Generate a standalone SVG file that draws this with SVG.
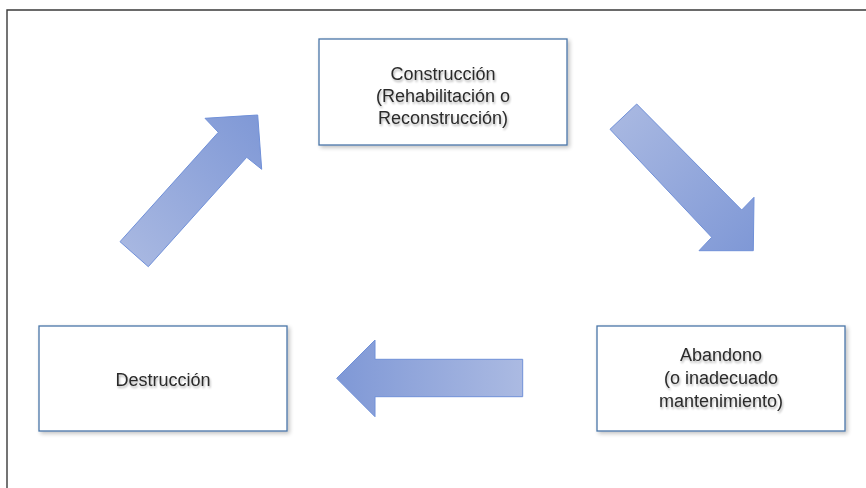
<svg xmlns="http://www.w3.org/2000/svg" width="866" height="488" viewBox="0 0 866 488">
  <style>
    .box { fill: #ffffff; stroke: #4a76a8; stroke-width: 1.3; filter: url(#boxShadow); }
    .lbl { font-family: "Liberation Sans", Arial, sans-serif; font-size: 18px; fill: #2b2b2b; text-anchor: middle; filter: url(#txtShadow); }
    .arrow { stroke: #7090d8; stroke-width: 1; stroke-linejoin: miter; }
    .frame { fill: none; stroke: #3a3a3a; stroke-width: 1.4; }
  </style>
  <defs>
    <filter id="boxShadow" x="-10%" y="-10%" width="125%" height="130%">
      <feGaussianBlur in="SourceAlpha" stdDeviation="2"/>
      <feOffset dx="2" dy="2" result="b"/>
      <feComponentTransfer><feFuncA type="linear" slope="0.25"/></feComponentTransfer>
      <feMerge><feMergeNode/><feMergeNode in="SourceGraphic"/></feMerge>
    </filter>
    <filter id="txtShadow" x="-10%" y="-30%" width="125%" height="170%">
      <feGaussianBlur in="SourceAlpha" stdDeviation="1.2"/>
      <feOffset dx="1" dy="1.5" result="b"/>
      <feComponentTransfer><feFuncA type="linear" slope="0.3"/></feComponentTransfer>
      <feMerge><feMergeNode/><feMergeNode in="SourceGraphic"/></feMerge>
    </filter>
    <linearGradient id="gUpRight" x1="0" y1="1" x2="1" y2="0">
      <stop offset="0" stop-color="#abbae2"/>
      <stop offset="1" stop-color="#7f98d6"/>
    </linearGradient>
    <linearGradient id="gDownRight" x1="0" y1="0" x2="1" y2="1">
      <stop offset="0" stop-color="#abbae2"/>
      <stop offset="1" stop-color="#7f98d6"/>
    </linearGradient>
    <linearGradient id="gLeft" x1="1" y1="0" x2="0" y2="0">
      <stop offset="0" stop-color="#abbae2"/>
      <stop offset="1" stop-color="#7f98d6"/>
    </linearGradient>
  </defs>

  <rect x="0" y="0" width="866" height="488" fill="#ffffff"/>
  <path class="frame" d="M7,488 V10 H866"/>

  <g id="connectors">
    <polygon class="arrow" fill="url(#gUpRight)" points="120,241.7 218.3,132.3 205,118.3 257.7,115 261.7,169.3 246.7,157.3 148.3,266.7"/>
    <polygon class="arrow" fill="url(#gDownRight)" points="610,129.3 636.7,104 741.7,210 754,197.3 753.3,250.7 699,250.7 711.7,237.3"/>
    <polygon class="arrow" fill="url(#gLeft)" points="336.7,378.3 375,340 375,359.3 522.7,359.3 522.7,396.7 375,396.7 375,416.7"/>
  </g>

  <g id="node-construccion">
    <rect class="box" x="319" y="39" width="248" height="106"/>
    <text class="lbl" x="443" y="80">Construcción</text>
    <text class="lbl" x="443" y="102">(Rehabilitación o</text>
    <text class="lbl" x="443" y="124">Reconstrucción)</text>
  </g>

  <g id="node-abandono">
    <rect class="box" x="597" y="326" width="248" height="105"/>
    <text class="lbl" x="721" y="361">Abandono</text>
    <text class="lbl" x="721" y="384">(o inadecuado</text>
    <text class="lbl" x="721" y="407">mantenimiento)</text>
  </g>

  <g id="node-destruccion">
    <rect class="box" x="39" y="326" width="248" height="105"/>
    <text class="lbl" x="163" y="386">Destrucción</text>
  </g>
</svg>
